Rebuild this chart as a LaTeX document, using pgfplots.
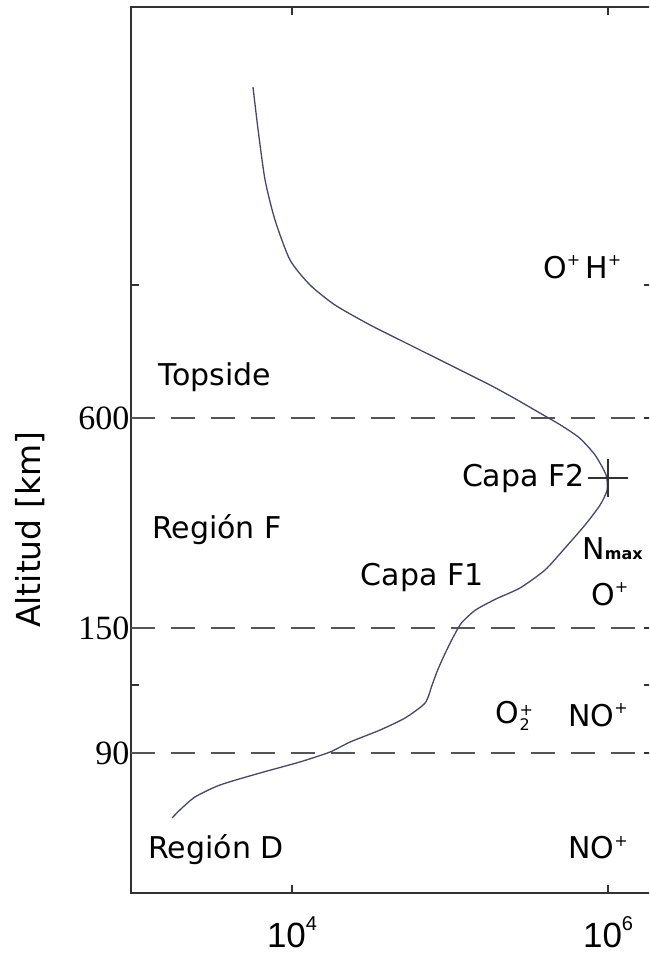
\documentclass[border=0pt]{standalone}
\usepackage{pgfplots}
\pgfplotsset{compat=1.18}
\usepackage{fontspec}
\setmainfont{DejaVu Sans}
\newfontfamily\numserif{Liberation Serif}
\newfontfamily\numsans{Liberation Sans}
\definecolor{curve}{RGB}{70,70,105}
\definecolor{axcol}{RGB}{50,50,50}
\definecolor{dashcol}{RGB}{85,85,85}
\newcommand\sUp[1]{\raisebox{0.42em}{\fontsize{16}{16}\selectfont #1}}
\newcommand\xsup[1]{\raisebox{0.5em}{\fontsize{20}{20}\selectfont #1}}

\pgfplotstableread{
n h
5.66e3 806
6.10e3 763
6.75e3 713
7.80e3 673
9.71e3 633
1.30e4 608
1.87e4 588
3.12e4 568
5.58e4 548
1.00e5 528
1.79e5 508
2.60e5 494
3.70e5 480
5.00e5 468
6.60e5 455
8.27e5 438
9.71e5 418
9.86e5 403
8.90e5 388
7.15e5 368
5.34e5 345
3.99e5 323
2.77e5 305
1.95e5 294
1.45e5 283
1.18e5 270
1.04e5 255
9.20e4 238
8.30e4 222
7.70e4 208
6.95e4 190
5.19e4 175
3.61e4 163
2.33e4 151
1.74e4 141
1.12e4 131
6.27e3 120
3.50e3 108
2.43e3 96
1.95e3 83
1.74e3 75
}\profile

\begin{document}
\begin{tikzpicture}[x=1pt,y=1pt]
\useasboundingbox (0,0) rectangle (649,959);
\clip (0,0) rectangle (649,959);
\begin{axis}[
  at={(131pt,66pt)}, anchor=south west,
  scale only axis, width=521pt, height=886pt,
  xmode=log, xmin=957, xmax=1.897e6, ymin=0, ymax=886,
  axis line style={axcol, line width=1.6pt},
  tick align=inside, major tick length=8pt,
  tick style={axcol, line width=1.4pt},
  minor tick num=0, minor xtick={},
  log basis x=10,
  xtick={1e4,1e6},
  xticklabels={10\xsup{4},10\xsup{6}},
  xticklabel style={font=\fontsize{35}{35}\selectfont\numsans, yshift=-20pt},
  ytick={140,208,265,475,608},
  yticklabels={90,,150,600,},
  yticklabel style={font=\fontsize{34}{34}\selectfont\numserif, xshift=2pt},
  every axis y label/.style={at={(rel axis cs:-0.194,0.41)}, rotate=90, anchor=center},
  ylabel={Altitud [km]},
  ylabel style={font=\fontsize{33}{33}\selectfont},
  clip=false,
]
\addplot[dashcol, line width=2pt, dash pattern=on 24pt off 16pt] coordinates {(957,475) (1.897e6,475)};
\addplot[dashcol, line width=2pt, dash pattern=on 24pt off 16pt] coordinates {(957,265) (1.897e6,265)};
\addplot[dashcol, line width=2pt, dash pattern=on 24pt off 16pt] coordinates {(957,140) (1.897e6,140)};
\addplot[curve, line width=1.3pt, smooth, tension=0.4] table[x=n, y=h] {\profile};
\addplot[axcol, line width=1.4pt] coordinates {(7.47e5,415) (1.34e6,415)};
\addplot[axcol, line width=1.4pt] coordinates {(1e6,396) (1e6,434)};

\begin{scope}[every node/.style={font=\fontsize{30}{30}\selectfont, inner sep=0pt}]
\node at (rel axis cs:0.866,0.706) {O\sUp{+}\,H\sUp{+}};
\node at (rel axis cs:0.161,0.582) {Topside};
\node[anchor=west] at (rel axis cs:0.040,0.410) {Región F};
\node[anchor=west] at (rel axis cs:0.441,0.356) {Capa F1};
\node[anchor=west] at (rel axis cs:0.635,0.468) {Capa F2};
\node[anchor=west] at (rel axis cs:0.866,0.389) {N{\fontsize{16}{16}\selectfont\bfseries max}};
\node at (rel axis cs:0.919,0.337) {O\sUp{+}};
\node[anchor=west] at (rel axis cs:0.700,0.200) {O\raisebox{-7pt}{\fontsize{16}{15}\selectfont\shortstack[l]{+\\2}}};
\node[anchor=west] at (rel axis cs:0.839,0.201) {NO\sUp{+}};
\node[anchor=west] at (rel axis cs:0.033,0.049) {Región D};
\node[anchor=west] at (rel axis cs:0.839,0.051) {NO\sUp{+}};
\end{scope}
\end{axis}
\end{tikzpicture}
\end{document}
